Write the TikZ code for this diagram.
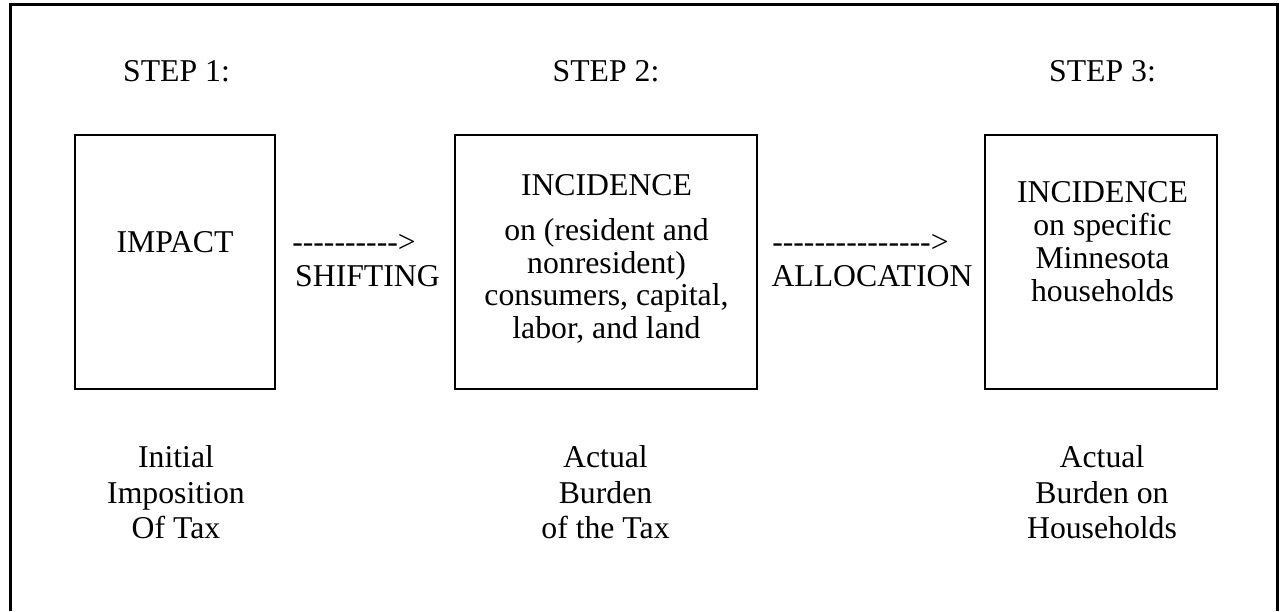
\documentclass[tikz,border=0pt]{standalone}
\usepackage{fontspec}
\setmainfont{Liberation Serif}[Ligatures=TeXOff]
\usepackage{tikz}

\begin{document}
\begin{tikzpicture}[x=0.75pt, y=-0.75pt,
		every node/.style={inner sep=0pt, font=\fontsize{23.8}{24.75}\selectfont},
		stepbox/.style={draw, line width=1.9pt, minimum height=190.5pt},
		lbl/.style={align=center, anchor=north}]
	\def\boxy{262};
	\def\basey{252};
	
	\useasboundingbox (0,0) rectangle (1280,611);
	\draw[line width=2.25pt] (10.5,611) -- (10.5,4) -- (1277.5,4) -- (1277.5,611);
	
	% step headings
	\node[anchor=base] (step1) at (176.5,81) {STEP 1:};
	\node[anchor=base] (step2) at (606,81) {STEP 2:};
	\node[anchor=base] (step3) at (1102.5,81) {STEP 3:};
	
	% boxes
	\node[stepbox, minimum width=150pt] (box1) at (175,\boxy) {};
	\node[stepbox, minimum width=226.5pt] (box2) at (606,\boxy) {};
	\node[stepbox, minimum width=174pt] (box3) at (1101,\boxy) {};
	
	\node[anchor=base] (impact) at (175,\basey) {IMPACT};
	\node[lbl, font=\fontsize{23.8}{24.4}\selectfont] (incidence) at (606.5,174.2)
		{INCIDENCE\\[9.4pt] on (resident and\\ nonresident)\\ consumers, capital,\\ labor, and land};
	\node[lbl] (incidence mn) at (1102.5,181)
		{INCIDENCE\\ on specific\\ Minnesota\\ households};
	
	% text arrows
	\node[anchor=base west] (shift arrow) at (292,\basey) {---------->};
	\node[anchor=base] (shifting) at (367.5,286) {SHIFTING};
	\node[anchor=base west] (alloc arrow) at (772,\basey) {--------------->};
	\node[anchor=base] (allocation) at (872,286) {ALLOCATION};
	
	% bottom captions
	\begin{scope}[every node/.append style={lbl, font=\fontsize{23.8}{26.6}\selectfont}]
		\node (initial) at (176,445.3) {Initial\\ Imposition\\ Of Tax};
		\node (burden) at (605.5,445.3) {Actual\\ Burden\\ of the Tax};
		\node (burden hh) at (1102,445.3) {Actual\\ Burden on\\ Households};
	\end{scope}
\end{tikzpicture}
\end{document}
